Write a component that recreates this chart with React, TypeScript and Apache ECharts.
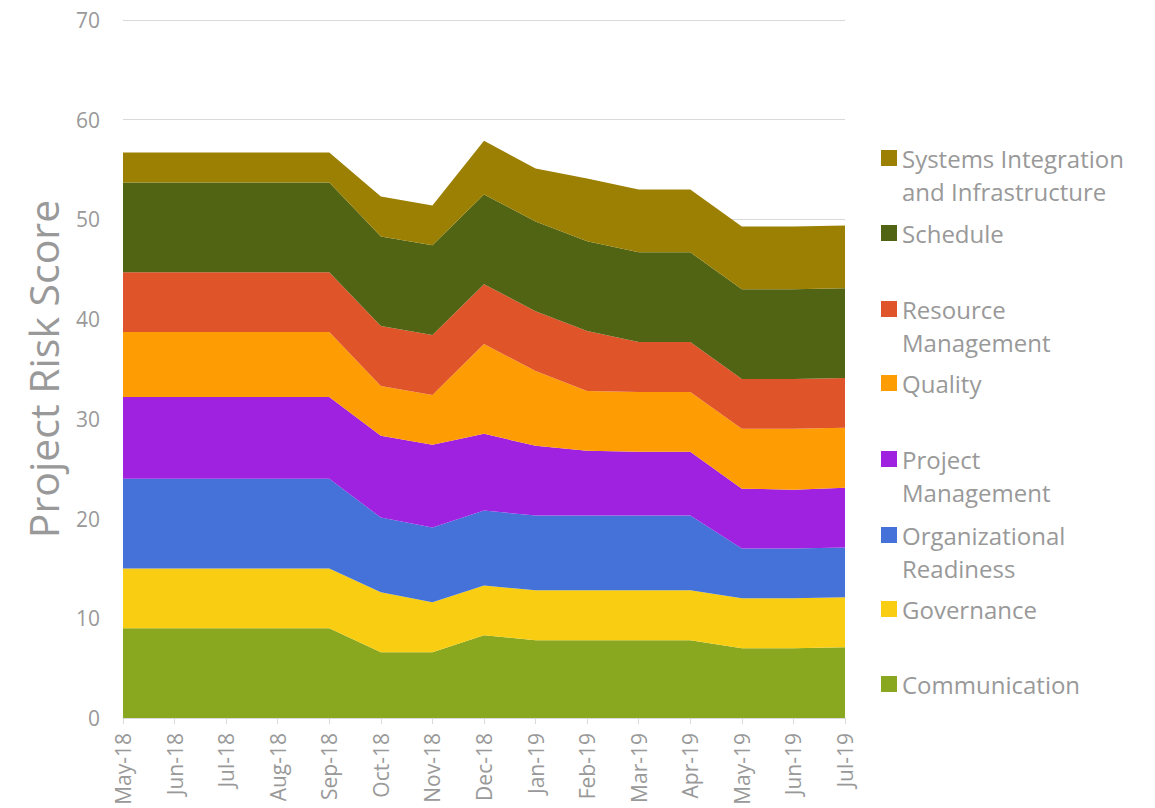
import React, { useEffect, useRef } from "react";
import * as echarts from "echarts";

const categories = [
  "May-18", "Jun-18", "Jul-18", "Aug-18", "Sep-18", "Oct-18", "Nov-18", "Dec-18",
  "Jan-19", "Feb-19", "Mar-19", "Apr-19", "May-19", "Jun-19", "Jul-19",
];

const communication = [9.0, 9.0, 9.0, 9.0, 9.0, 6.6, 6.6, 8.3, 7.8, 7.8, 7.8, 7.8, 7.0, 7.0, 7.1];
const governance = [6.0, 6.0, 6.0, 6.0, 6.0, 6.0, 5.0, 5.0, 5.0, 5.0, 5.0, 5.0, 5.0, 5.0, 5.0];
const organizationalReadiness = [9.0, 9.0, 9.0, 9.0, 9.0, 7.5, 7.5, 7.5, 7.5, 7.5, 7.5, 7.5, 5.0, 5.0, 5.0];
const projectManagement = [8.2, 8.2, 8.2, 8.2, 8.2, 8.2, 8.3, 7.7, 7.0, 6.5, 6.4, 6.4, 6.0, 5.9, 6.0];
const quality = [6.5, 6.5, 6.5, 6.5, 6.5, 5.0, 5.0, 9.0, 7.5, 6.0, 6.0, 6.0, 6.0, 6.1, 6.0];
const resourceManagement = [6.0, 6.0, 6.0, 6.0, 6.0, 6.0, 6.0, 6.0, 6.0, 6.0, 5.0, 5.0, 5.0, 5.0, 5.0];
const schedule = [9.0, 9.0, 9.0, 9.0, 9.0, 9.0, 9.0, 9.0, 9.0, 9.0, 9.0, 9.0, 9.0, 9.0, 9.0];
const systemsIntegration = [3.0, 3.0, 3.0, 3.0, 3.0, 4.0, 4.0, 5.4, 5.3, 6.3, 6.3, 6.3, 6.3, 6.3, 6.3];

const seriesNames = [
  "Communication",
  "Governance",
  "Organizational Readiness",
  "Project Management",
  "Quality",
  "Resource Management",
  "Schedule",
  "Systems Integration and Infrastructure",
];
const seriesData = [
  communication,
  governance,
  organizationalReadiness,
  projectManagement,
  quality,
  resourceManagement,
  schedule,
  systemsIntegration,
];
const seriesColors = [
  "#89A81F",
  "#F9CE12",
  "#4472D9",
  "#9E22E0",
  "#FE9D03",
  "#E0542A",
  "#506414",
  "#9C8003",
];
// wrapped legend labels
const legendLines = [
  ["Communication"],
  ["Governance"],
  ["Organizational", "Readiness"],
  ["Project", "Management"],
  ["Quality"],
  ["Resource", "Management"],
  ["Schedule"],
  ["Systems Integration", "and Infrastructure"],
];
const legendCenters = [684, 609, 535, 459, 383, 309, 233, 158];

const FONT = "'Open Sans', sans-serif";
const GREY = "#999999";
const LINE_H = 33;

export default function App() {
  const ref = useRef<HTMLDivElement>(null);

  useEffect(() => {
    if (!ref.current) return;
    const chart = echarts.init(ref.current, null, { renderer: "svg" });

    const legends = seriesNames.map((name, i) => {
      const lines = legendLines[i];
      const twoLine = lines.length > 1;
      // for two-line items a leading empty line keeps the first line centred on the icon
      const label = twoLine ? "\n" + lines.join("\n") : lines[0];
      return {
        data: [name],
        orient: "vertical",
        left: 881,
        top: legendCenters[i] - (twoLine ? 1.5 * LINE_H : 0.5 * LINE_H),
        padding: 0,
        itemWidth: 16,
        itemHeight: 16,
        itemGap: 0,
        icon: "rect",
        selectedMode: false,
        formatter: () => label,
        textStyle: {
          fontFamily: FONT,
          fontSize: 24,
          color: GREY,
          lineHeight: LINE_H,
        },
      };
    });

    chart.setOption({
      animation: false,
      backgroundColor: "#ffffff",
      textStyle: { fontFamily: FONT },
      grid: { left: 123, right: 310, top: 20, bottom: 90, containLabel: false },
      legend: legends,
      xAxis: {
        type: "category",
        data: categories,
        boundaryGap: false,
        axisLine: { show: true, lineStyle: { color: "#d9d9d9", width: 1 } },
        axisTick: { show: true, length: 6, lineStyle: { color: "#d9d9d9" } },
        axisLabel: {
          rotate: 90,
          interval: 0,
          margin: 15,
          fontFamily: FONT,
          fontSize: 21,
          color: GREY,
        },
        splitLine: { show: false },
      },
      yAxis: {
        type: "value",
        min: 0,
        max: 70,
        interval: 10,
        name: "Project Risk Score",
        nameLocation: "middle",
        nameGap: 60,
        nameTextStyle: { fontFamily: FONT, fontSize: 41, color: GREY },
        axisLine: { show: false },
        axisTick: { show: false },
        axisLabel: { fontFamily: FONT, fontSize: 21, color: GREY, margin: 23 },
        splitLine: { show: true, lineStyle: { color: "#d9d9d9", width: 1 } },
      },
      series: seriesNames.map((name, i) => ({
        name,
        type: "line",
        stack: "total",
        data: seriesData[i],
        symbol: "none",
        lineStyle: { width: 0 },
        itemStyle: { color: seriesColors[i] },
        areaStyle: { color: seriesColors[i], opacity: 1 },
      })),
    });

    return () => chart.dispose();
  }, []);

  return (
    <div
      ref={ref}
      style={{ position: "fixed", left: 0, top: 0, width: 1155, height: 808 }}
    />
  );
}
